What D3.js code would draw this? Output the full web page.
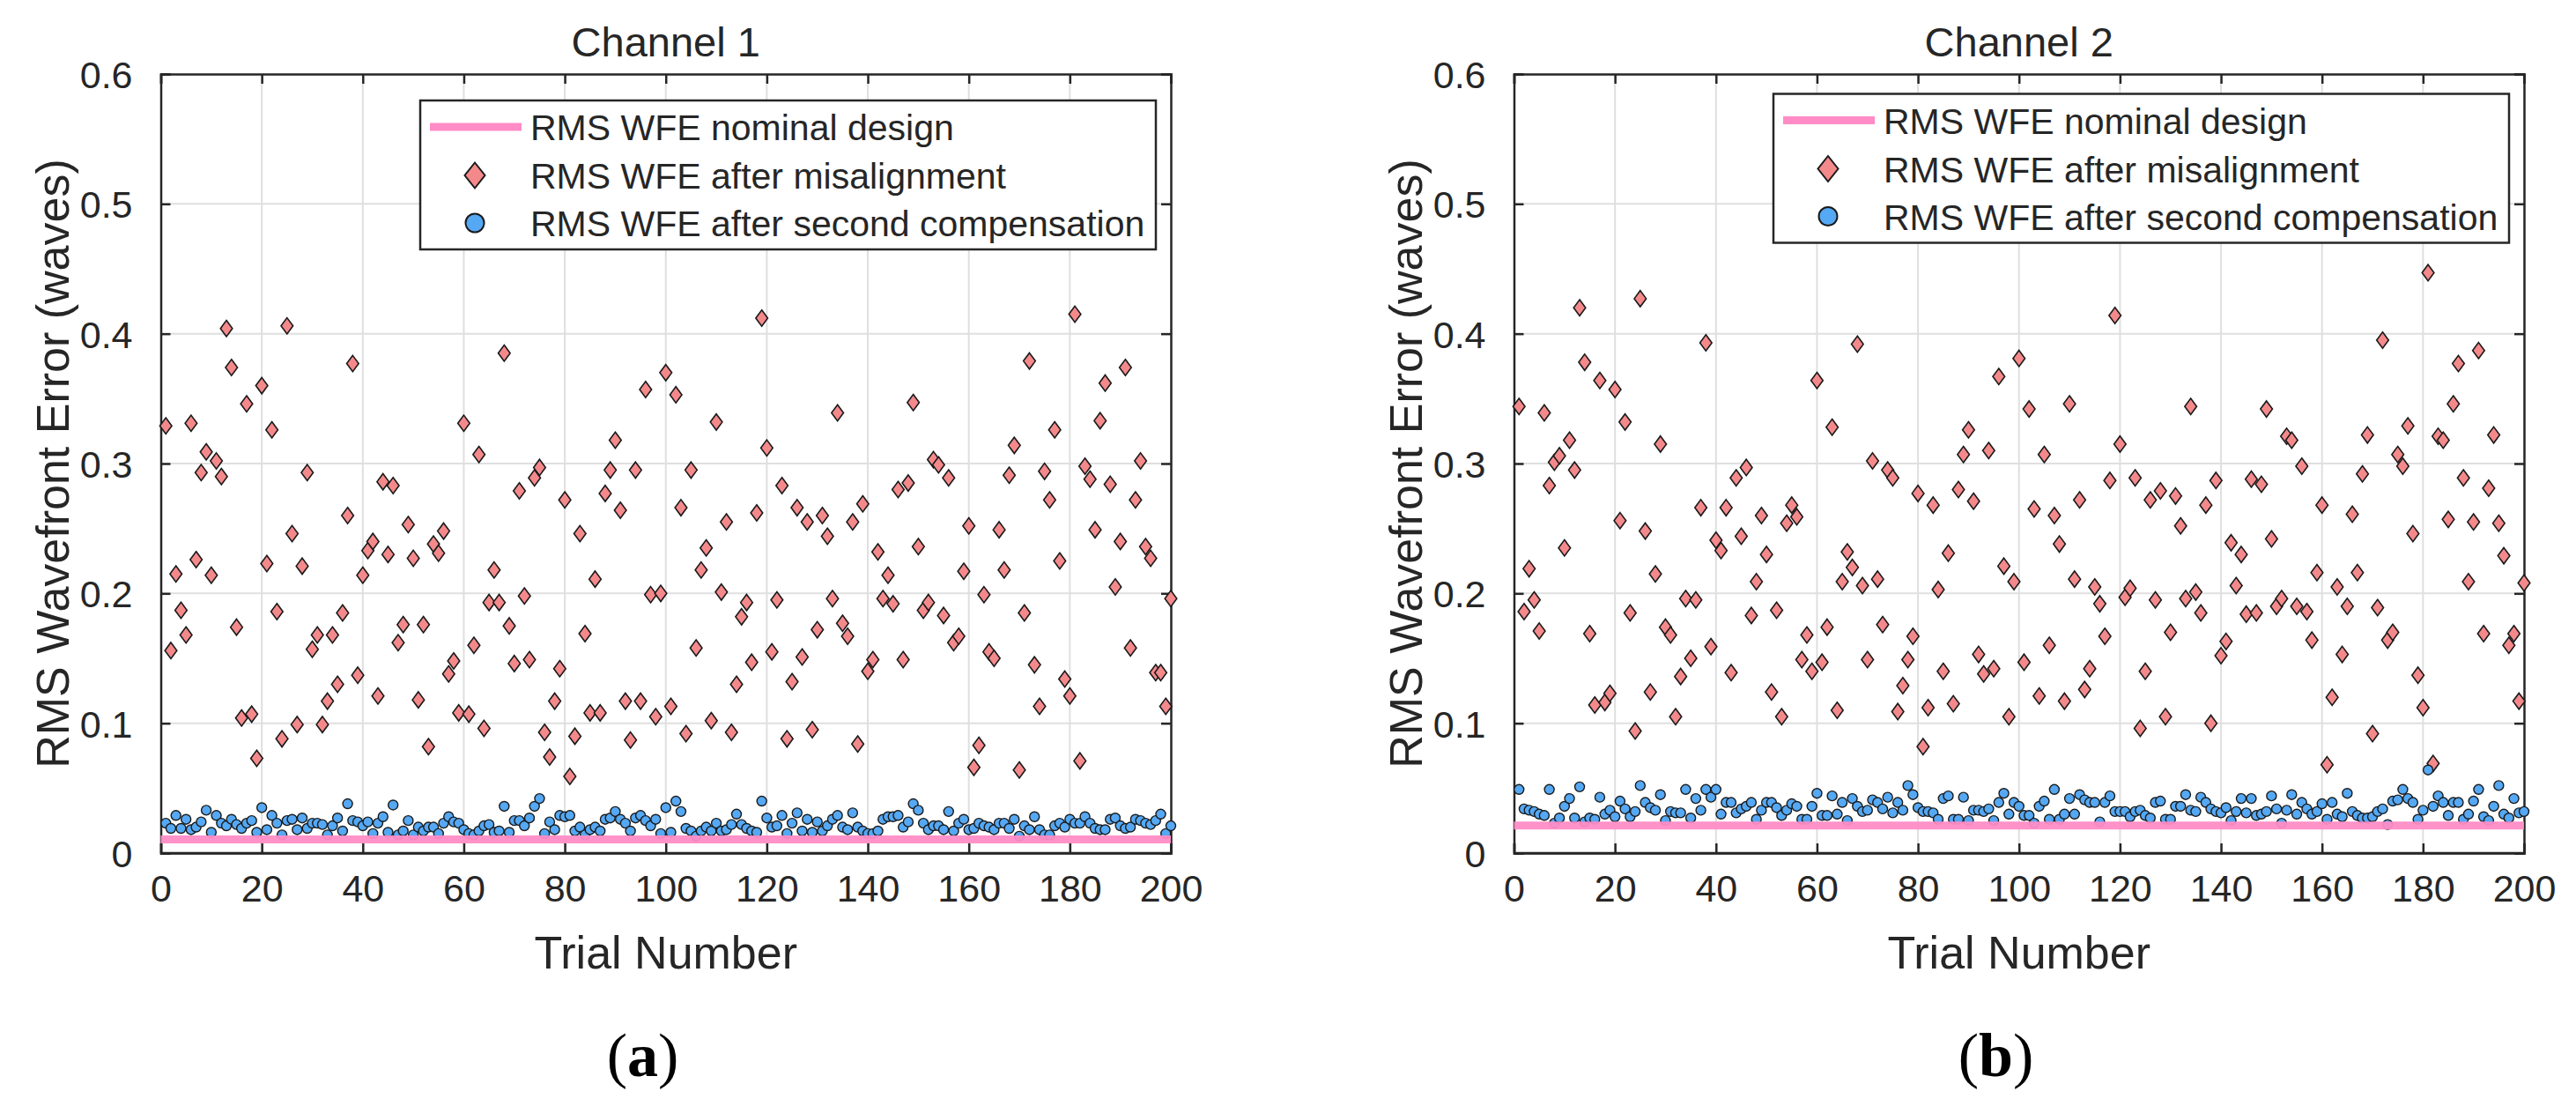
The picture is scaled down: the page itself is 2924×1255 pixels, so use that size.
<!DOCTYPE html>
<html>
<head>
<meta charset="utf-8">
<script src="https://cdn.jsdelivr.net/npm/d3@7"></script>
<style>
  html, body { margin: 0; padding: 0; background: #ffffff; }
  svg { display: block; }
</style>
</head>
<body>
<svg id="chart" width="2924" height="1255"></svg>
<script>
// ---------------- DATA ----------------
const trials = d3.range(1, 201);
const xTicks = [0, 20, 40, 60, 80, 100, 120, 140, 160, 180, 200];
const xTickLabels = ["0", "20", "40", "60", "80", "100", "120", "140", "160", "180", "200"];
const yTicks = [0, 0.1, 0.2, 0.3, 0.4, 0.5, 0.6];
const yTickLabels = ["0", "0.1", "0.2", "0.3", "0.4", "0.5", "0.6"];
const panelTitles = ["Channel 1", "Channel 2"];
const panelCaptions = ["a", "b"];
const legendLabels = ["RMS WFE nominal design", "RMS WFE after misalignment", "RMS WFE after second compensation"];
const xLabel = "Trial Number";
const yLabel = "RMS Wavefront Error (waves)";

const nominal1 = 0.0105;
const nominal2 = 0.0212;

const misalign1 = [
0.329,0.156,0.215,0.187,0.168,0.331,0.226,0.293,0.309,0.214,
0.302,0.290,0.404,0.374,0.174,0.104,0.346,0.107,0.073,0.360,
0.223,0.326,0.186,0.088,0.406,0.246,0.099,0.221,0.293,0.157,
0.168,0.099,0.117,0.168,0.130,0.185,0.260,0.377,0.137,0.214,
0.233,0.240,0.121,0.286,0.230,0.283,0.162,0.176,0.253,0.227,
0.118,0.176,0.082,0.238,0.231,0.248,0.138,0.148,0.108,0.331,
0.107,0.160,0.307,0.096,0.193,0.218,0.193,0.385,0.175,0.146,
0.279,0.198,0.149,0.289,0.297,0.093,0.074,0.117,0.142,0.272,
0.059,0.090,0.246,0.169,0.108,0.211,0.108,0.277,0.295,0.318,
0.264,0.117,0.087,0.295,0.117,0.357,0.199,0.105,0.200,0.370,
0.113,0.353,0.266,0.092,0.295,0.158,0.218,0.235,0.102,0.332,
0.201,0.255,0.093,0.130,0.182,0.193,0.147,0.262,0.412,0.312,
0.155,0.195,0.283,0.088,0.132,0.266,0.151,0.255,0.095,0.172,
0.260,0.244,0.196,0.339,0.177,0.167,0.255,0.084,0.269,0.140,
0.149,0.232,0.196,0.214,0.192,0.280,0.149,0.285,0.347,0.236,
0.187,0.193,0.303,0.299,0.183,0.289,0.162,0.167,0.217,0.252,
0.066,0.083,0.199,0.155,0.150,0.249,0.218,0.291,0.314,0.064,
0.185,0.379,0.145,0.113,0.294,0.272,0.326,0.225,0.134,0.121,
0.415,0.071,0.298,0.288,0.249,0.333,0.362,0.284,0.205,0.240,
0.374,0.158,0.272,0.302,0.236,0.227,0.139,0.139,0.113,0.196
];

const comp1 = [
0.023,0.019,0.029,0.019,0.026,0.018,0.020,0.024,0.033,0.016,
0.029,0.023,0.021,0.026,0.022,0.019,0.023,0.025,0.016,0.035,
0.018,0.029,0.023,0.014,0.025,0.026,0.018,0.027,0.019,0.023,
0.023,0.022,0.014,0.021,0.027,0.017,0.038,0.025,0.024,0.021,
0.024,0.015,0.023,0.028,0.016,0.037,0.014,0.017,0.025,0.014,
0.020,0.017,0.020,0.020,0.015,0.023,0.028,0.024,0.023,0.018,
0.015,0.014,0.017,0.021,0.022,0.016,0.017,0.036,0.016,0.025,
0.025,0.021,0.027,0.036,0.042,0.015,0.024,0.018,0.029,0.028,
0.029,0.017,0.020,0.014,0.018,0.020,0.017,0.026,0.027,0.032,
0.026,0.023,0.017,0.027,0.029,0.025,0.021,0.026,0.015,0.035,
0.016,0.040,0.032,0.019,0.017,0.013,0.017,0.020,0.017,0.023,
0.017,0.018,0.022,0.030,0.022,0.019,0.017,0.016,0.040,0.027,
0.020,0.021,0.029,0.015,0.023,0.031,0.017,0.026,0.016,0.024,
0.017,0.021,0.026,0.029,0.020,0.018,0.031,0.020,0.017,0.015,
0.015,0.017,0.026,0.028,0.028,0.029,0.020,0.024,0.038,0.033,
0.023,0.018,0.021,0.021,0.018,0.032,0.017,0.023,0.026,0.018,
0.019,0.023,0.021,0.020,0.018,0.023,0.023,0.019,0.026,0.013,
0.021,0.018,0.028,0.018,0.014,0.014,0.021,0.023,0.020,0.026,
0.023,0.023,0.028,0.023,0.019,0.018,0.018,0.026,0.027,0.021,
0.019,0.020,0.026,0.025,0.023,0.022,0.025,0.030,0.015,0.021
];

const misalign2 = [
0.344,0.186,0.219,0.195,0.171,0.339,0.283,0.301,0.306,0.235,
0.318,0.295,0.420,0.378,0.169,0.114,0.364,0.116,0.123,0.357,
0.256,0.332,0.185,0.094,0.427,0.248,0.124,0.215,0.315,0.174,
0.168,0.105,0.136,0.196,0.150,0.195,0.266,0.393,0.159,0.241,
0.233,0.266,0.139,0.289,0.244,0.297,0.183,0.209,0.260,0.230,
0.124,0.187,0.105,0.254,0.268,0.259,0.149,0.168,0.140,0.364,
0.147,0.174,0.328,0.110,0.209,0.232,0.220,0.392,0.206,0.149,
0.302,0.211,0.176,0.295,0.289,0.109,0.129,0.149,0.167,0.277,
0.082,0.112,0.268,0.203,0.140,0.231,0.115,0.280,0.307,0.326,
0.271,0.153,0.138,0.310,0.142,0.367,0.221,0.105,0.209,0.381,
0.147,0.342,0.265,0.121,0.307,0.160,0.260,0.238,0.117,0.346,
0.211,0.272,0.126,0.142,0.205,0.192,0.167,0.287,0.414,0.315,
0.197,0.204,0.289,0.096,0.140,0.272,0.195,0.279,0.105,0.170,
0.275,0.252,0.196,0.344,0.201,0.185,0.268,0.100,0.287,0.152,
0.163,0.239,0.206,0.230,0.184,0.288,0.185,0.284,0.342,0.242,
0.190,0.196,0.321,0.318,0.190,0.298,0.186,0.164,0.216,0.268,
0.068,0.120,0.205,0.153,0.190,0.261,0.216,0.292,0.322,0.092,
0.189,0.395,0.164,0.170,0.307,0.298,0.329,0.246,0.137,0.112,
0.447,0.069,0.321,0.318,0.257,0.346,0.377,0.289,0.209,0.255,
0.387,0.169,0.281,0.322,0.254,0.229,0.160,0.169,0.117,0.208
];

const comp2 = [
0.049,0.034,0.033,0.032,0.030,0.029,0.049,0.023,0.027,0.036,
0.042,0.027,0.051,0.024,0.027,0.026,0.043,0.030,0.033,0.028,
0.040,0.034,0.028,0.032,0.052,0.039,0.035,0.033,0.045,0.025,
0.032,0.031,0.031,0.049,0.027,0.042,0.033,0.049,0.043,0.049,
0.030,0.039,0.039,0.031,0.034,0.036,0.039,0.026,0.033,0.039,
0.039,0.035,0.029,0.033,0.038,0.036,0.026,0.026,0.036,0.046,
0.029,0.029,0.044,0.030,0.039,0.025,0.042,0.036,0.032,0.033,
0.041,0.039,0.034,0.043,0.031,0.039,0.033,0.052,0.045,0.035,
0.032,0.032,0.031,0.026,0.042,0.044,0.026,0.026,0.043,0.025,
0.033,0.033,0.032,0.034,0.025,0.039,0.046,0.030,0.039,0.036,
0.029,0.029,0.023,0.036,0.040,0.026,0.049,0.026,0.030,0.042,
0.030,0.045,0.041,0.039,0.039,0.024,0.039,0.044,0.032,0.032,
0.032,0.028,0.032,0.033,0.029,0.027,0.039,0.040,0.026,0.026,
0.036,0.036,0.045,0.033,0.032,0.043,0.039,0.034,0.032,0.031,
0.035,0.025,0.032,0.042,0.031,0.042,0.029,0.030,0.032,0.044,
0.034,0.023,0.033,0.045,0.030,0.039,0.034,0.030,0.032,0.038,
0.026,0.039,0.030,0.028,0.046,0.032,0.029,0.027,0.027,0.028,
0.032,0.034,0.022,0.040,0.041,0.049,0.042,0.039,0.026,0.033,
0.064,0.036,0.044,0.039,0.029,0.039,0.039,0.026,0.030,0.040,
0.049,0.028,0.025,0.036,0.052,0.030,0.027,0.042,0.031,0.032
];

// ---------------- LAYOUT ----------------
const FONT = "'Liberation Sans', Arial, Helvetica, sans-serif";
const SERIF = "'Liberation Serif', 'Times New Roman', serif";
const TXT = "#262626";
const PINK = "#ff8cc6";
const SALMON = "#f4898b";
const BLUE = "#55a8f3";

const plotTop = 84, plotBottom = 968, plotWidth = 1146.5;
const panels = [
  { left: 182.5, misalign: misalign1, comp: comp1, nominal: nominal1, legendTop: 114 },
  { left: 1718.5, misalign: misalign2, comp: comp2, nominal: nominal2, legendTop: 106.5 }
];

const svg = d3.select("#chart");
svg.append("rect").attr("width", 2924).attr("height", 1255).attr("fill", "#fff");

// custom tall diamond symbol (MATLAB 'd' marker look)
function diamondType(hw, hh) {
  return { draw(ctx) { ctx.moveTo(0, -hh); ctx.lineTo(hw, 0); ctx.lineTo(0, hh); ctx.lineTo(-hw, 0); ctx.closePath(); } };
}

panels.forEach((p, pi) => {
  const x = d3.scaleLinear().domain([0, 200]).range([p.left, p.left + plotWidth]);
  const y = d3.scaleLinear().domain([0, 0.6]).range([plotBottom, plotTop]);
  const g = svg.append("g");

  // grid
  const grid = g.append("g");
  grid.selectAll("line.gx").data(xTicks.slice(1, -1)).enter().append("line")
    .attr("x1", d => x(d)).attr("x2", d => x(d)).attr("y1", plotTop).attr("y2", plotBottom)
    .attr("stroke", "#dfdfdf").attr("stroke-width", 2);
  grid.selectAll("line.gy").data(yTicks.slice(1, -1)).enter().append("line")
    .attr("y1", d => y(d)).attr("y2", d => y(d)).attr("x1", x(0)).attr("x2", x(200))
    .attr("stroke", "#dfdfdf").attr("stroke-width", 2);

  // axes via d3 axis generators (ticks inward)
  const axB = d3.axisBottom(x).tickValues(xTicks).tickSize(-11).tickFormat((d, i) => xTickLabels[i]).tickPadding(24);
  const axT = d3.axisTop(x).tickValues(xTicks).tickSize(-11).tickFormat("");
  const axL = d3.axisLeft(y).tickValues(yTicks).tickSize(-11).tickFormat((d, i) => yTickLabels[i]).tickPadding(32);
  const axR = d3.axisRight(y).tickValues(yTicks).tickSize(-11).tickFormat("");

  const gB = g.append("g").attr("transform", `translate(0,${plotBottom})`).call(axB);
  const gT = g.append("g").attr("transform", `translate(0,${plotTop})`).call(axT);
  const gL = g.append("g").attr("transform", `translate(${p.left},0)`).call(axL);
  const gR = g.append("g").attr("transform", `translate(${p.left + plotWidth},0)`).call(axR);
  [gB, gT, gL, gR].forEach(a => {
    a.selectAll(".domain").attr("stroke", TXT).attr("stroke-width", 2.5);
    a.selectAll(".tick line").attr("stroke", TXT).attr("stroke-width", 2.5);
    a.selectAll(".tick text").attr("fill", TXT).style("font-family", FONT).style("font-size", "43px");
  });
  gB.selectAll(".tick text").attr("dy", "0.71em");
  gL.selectAll(".tick text").attr("dy", "0.36em");

  // data
  const diamond = d3.symbol().type(diamondType(6.8, 9.2));
  g.append("g").selectAll("path").data(p.misalign).enter().append("path")
    .attr("d", diamond)
    .attr("transform", (d, i) => `translate(${x(trials[i])},${y(d)})`)
    .attr("fill", SALMON).attr("stroke", "#1a1a1a").attr("stroke-width", 1.6);

  g.append("g").selectAll("circle").data(p.comp).enter().append("circle")
    .attr("cx", (d, i) => x(trials[i])).attr("cy", d => y(d)).attr("r", 5.5)
    .attr("fill", BLUE).attr("stroke", "#1a1a1a").attr("stroke-width", 1.4);

  g.append("line")
    .attr("x1", x(0)).attr("x2", x(200)).attr("y1", y(p.nominal)).attr("y2", y(p.nominal))
    .attr("stroke", PINK).attr("stroke-width", 9).attr("stroke-opacity", 0.95);

  // redraw bottom axis domain on top of nominal line region
  g.append("line").attr("x1", x(0)).attr("x2", x(200)).attr("y1", plotBottom).attr("y2", plotBottom)
    .attr("stroke", TXT).attr("stroke-width", 2.5);

  // title
  g.append("text").attr("x", (x(0) + x(200)) / 2).attr("y", 64).attr("text-anchor", "middle")
    .attr("fill", TXT).style("font-family", FONT).style("font-size", "47px").text(panelTitles[pi]);

  // axis labels
  g.append("text").attr("x", (x(0) + x(200)) / 2).attr("y", 1099).attr("text-anchor", "middle")
    .attr("fill", TXT).style("font-family", FONT).style("font-size", "52px").text(xLabel);
  g.append("text").attr("transform", `translate(${p.left - 105},${(plotTop + plotBottom) / 2}) rotate(-90)`)
    .attr("text-anchor", "middle").attr("fill", TXT).style("font-family", FONT).style("font-size", "52px").text(yLabel);

  // caption (a)/(b)
  const cap = g.append("text").attr("x", p.left + 547).attr("y", 1221).attr("text-anchor", "middle")
    .style("font-family", SERIF).style("font-size", "70px").attr("fill", "#000");
  cap.append("tspan").text("(");
  cap.append("tspan").style("font-weight", "bold").text(panelCaptions[pi]);
  cap.append("tspan").text(")");

  // legend
  const lgW = 835, lgH = 169;
  const lgL = x(200) - 17 - lgW, lgT = p.legendTop;
  const lg = g.append("g");
  lg.append("rect").attr("x", lgL).attr("y", lgT).attr("width", lgW).attr("height", lgH)
    .attr("fill", "#fff").attr("stroke", TXT).attr("stroke-width", 2.5);
  const rowY = [lgT + 30, lgT + 85, lgT + 139];
  lg.append("line").attr("x1", lgL + 11).attr("x2", lgL + 115).attr("y1", rowY[0]).attr("y2", rowY[0])
    .attr("stroke", PINK).attr("stroke-width", 9);
  lg.append("path").attr("d", d3.symbol().type(diamondType(11.5, 14.5)))
    .attr("transform", `translate(${lgL + 62},${rowY[1]})`)
    .attr("fill", SALMON).attr("stroke", "#1a1a1a").attr("stroke-width", 2);
  lg.append("circle").attr("cx", lgL + 62).attr("cy", rowY[2]).attr("r", 10.5)
    .attr("fill", BLUE).attr("stroke", "#1a1a1a").attr("stroke-width", 2);
  lg.selectAll("text.lt").data(legendLabels).enter().append("text")
    .attr("x", lgL + 125).attr("y", (d, i) => rowY[i] + 15)
    .attr("fill", TXT).style("font-family", FONT).style("font-size", "41px").text(d => d);
});
</script>
</body>
</html>
